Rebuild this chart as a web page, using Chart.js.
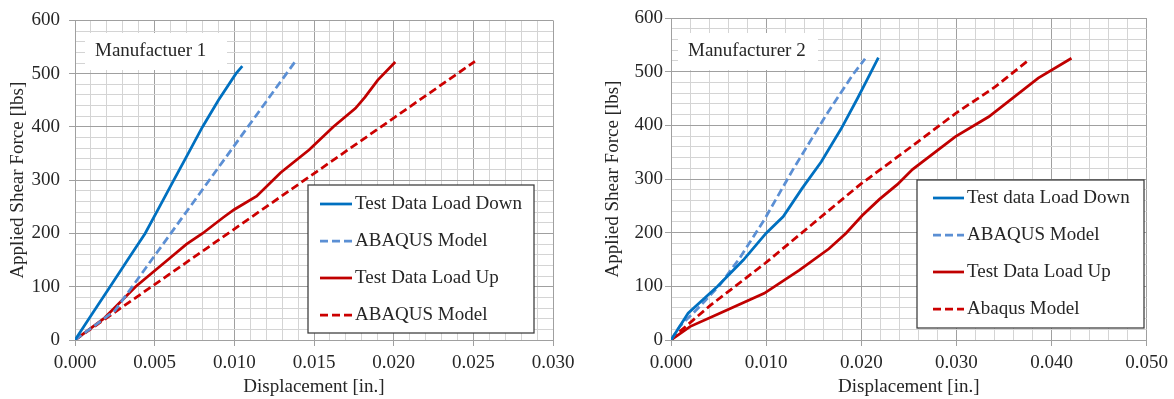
<!DOCTYPE html>
<html>
<head>
<meta charset="utf-8">
<script src="https://cdn.jsdelivr.net/npm/chart.js@4.4.1/dist/chart.umd.min.js"></script>
<style>
  body { margin: 0; background: #ffffff; }
  .wrap { position: absolute; top: 0; height: 399px; }
</style>
</head>
<body>
<div class="wrap" style="left:0;width:590px"><canvas id="chart1" width="590" height="399"></canvas></div>
<div class="wrap" style="left:595px;width:579px"><canvas id="chart2" width="579" height="399"></canvas></div>
<script>
// ----------------------------------------------- Data: Manufacturer 1 -----------------------------------------------
const m1DownX = [0, 0.0011, 0.0022, 0.0033, 0.0044, 0.0053, 0.0062, 0.0071, 0.0080, 0.0090, 0.0101, 0.0105];
const m1DownY = [0, 50, 100, 150, 200, 250, 300, 350, 400, 450, 500, 514];
const m1ModelDownX = [0, 0.0025, 0.0138];
const m1ModelDownY = [0, 55, 522];
const m1UpX = [0, 0.0018, 0.0038, 0.0050, 0.0060, 0.0070, 0.0080, 0.0093, 0.0100, 0.0114, 0.0129, 0.0147, 0.0162, 0.0176, 0.0182, 0.0190, 0.0201];
const m1UpY = [0, 40, 100, 130, 155, 180, 200, 230, 245, 270, 314, 357, 400, 435, 456, 488, 522];
const m1ModelUpX = [0, 0.0251];
const m1ModelUpY = [0, 523];

// ----------------------------------------------- Data: Manufacturer 2 -----------------------------------------------
const m2DownX = [0, 0.0018, 0.0049, 0.0076, 0.0100, 0.0118, 0.0138, 0.0158, 0.0179, 0.0196, 0.0205, 0.0218];
const m2DownY = [0, 50, 100, 149, 199, 230, 283, 332, 394, 450, 481, 526];
const m2ModelDownX = [0, 0.0009, 0.0030, 0.0051, 0.0072, 0.0098, 0.0110, 0.0128, 0.0163, 0.0191, 0.0204];
const m2ModelDownY = [0, 25, 62, 102, 152, 224, 261, 317, 419, 494, 524];
const m2UpX = [0, 0.0020, 0.0049, 0.0098, 0.0135, 0.0166, 0.0184, 0.0201, 0.0219, 0.0238, 0.0254, 0.0299, 0.0334, 0.0386, 0.0421];
const m2UpY = [0, 25, 48, 87, 130, 170, 199, 232, 262, 290, 318, 379, 416, 488, 525];
const m2ModelUpX = [0, 0.0010, 0.0041, 0.0099, 0.0150, 0.0199, 0.0257, 0.0299, 0.0341, 0.0377];
const m2ModelUpY = [0, 17, 64, 143, 218, 290, 366, 422, 472, 523];

const legendM1 = ["Test Data Load Down", "ABAQUS Model", "Test Data Load Up", "ABAQUS Model"];
const legendM2 = ["Test data Load Down", "ABAQUS Model", "Test Data Load Up", "Abaqus Model"];

//Global Options
Chart.defaults.font.family = "'Liberation Serif', 'Times New Roman', serif";
Chart.defaults.font.size = 19;
Chart.defaults.color = "#262626";

const MAJOR = "#a0a0a0";
const MINOR = "#d4d4d4";
const BLUE = "#0070c0";
const BLUE_DASH = "#5b8fd4";
const RED = "#c00000";
const RED_DASH = "#cc0000";

const pts = (xs, ys) => xs.map((x, i) => ({ x: x, y: ys[i] }));

function isMajor(value, step) {
    const r = value / step;
    return Math.abs(r - Math.round(r)) < 1e-6;
}

function series(label, xs, ys, color, dash) {
    return {
        label: label,
        data: pts(xs, ys),
        borderColor: color,
        backgroundColor: color,
        borderWidth: 2.75,
        borderDash: dash,
        pointRadius: 0,
        showLine: true,
        tension: 0,
    };
}

// legend box + panel tag drawn inside the plot
const panelDecor = {
    id: "panelDecor",
    afterDraw(chart, args, opts) {
        const ctx = chart.ctx;
        ctx.save();
        ctx.font = "19px 'Liberation Serif'";
        ctx.textBaseline = "middle";
        ctx.textAlign = "left";

        const t = opts.tag;
        ctx.fillStyle = "#ffffff";
        ctx.fillRect(t.x, t.y, t.w, t.h);
        ctx.fillStyle = "#262626";
        ctx.fillText(t.text, t.x + t.pad, t.y + t.h / 2);

        const L = opts.legend;
        ctx.fillStyle = "#ffffff";
        ctx.fillRect(L.x, L.y, L.w, L.h);
        ctx.strokeStyle = "#3a3a3a";
        ctx.lineWidth = 1.25;
        ctx.strokeRect(L.x, L.y, L.w, L.h);

        chart.data.datasets.forEach((ds, i) => {
            const y = L.y + L.first + i * L.step;
            ctx.beginPath();
            ctx.strokeStyle = ds.borderColor;
            ctx.lineWidth = ds.borderWidth;
            ctx.setLineDash(ds.borderDash || []);
            ctx.moveTo(L.x + L.lineX, y);
            ctx.lineTo(L.x + L.lineX + L.lineLen, y);
            ctx.stroke();
            ctx.setLineDash([]);
            ctx.fillStyle = "#262626";
            ctx.fillText(ds.label, L.x + L.textX, y);
        });
        ctx.restore();
    },
};

function buildConfig(datasets, xMax, xMinor, xMajor, yAxisWidth, yTickPad, padRight, decor) {
    return {
        type: "scatter",
        data: { datasets: datasets },
        plugins: [panelDecor],
        options: {
            responsive: false,
            animation: false,
            layout: { padding: { top: 18, right: padRight, left: 0, bottom: 0 } },
            scales: {
                x: {
                    type: "linear",
                    min: 0,
                    max: xMax,
                    afterFit: (scale) => { scale.height = 59; },
                    ticks: {
                        stepSize: xMinor,
                        autoSkip: false,
                        maxRotation: 0,
                        minRotation: 0,
                        padding: 6,
                        callback: (value) => isMajor(value, xMajor) ? value.toFixed(3) : "",
                    },
                    grid: {
                        color: (c) => isMajor(c.tick.value, xMajor) ? MAJOR : MINOR,
                        tickColor: (c) => isMajor(c.tick.value, xMajor) ? MAJOR : "rgba(0,0,0,0)",
                        tickLength: 6,
                        lineWidth: 1,
                    },
                    border: { color: MAJOR },
                    title: {
                        display: true,
                        text: "Displacement [in.]",
                        padding: { top: 0, bottom: 1 },
                    },
                },
                y: {
                    type: "linear",
                    min: 0,
                    max: 600,
                    afterFit: (scale) => { scale.width = yAxisWidth; },
                    ticks: {
                        stepSize: 20,
                        autoSkip: false,
                        padding: yTickPad,
                        callback: (value) => isMajor(value, 100) ? value : "",
                    },
                    grid: {
                        color: (c) => isMajor(c.tick.value, 100) ? MAJOR : MINOR,
                        tickColor: (c) => isMajor(c.tick.value, 100) ? MAJOR : "rgba(0,0,0,0)",
                        tickLength: 6,
                        lineWidth: 1,
                    },
                    border: { color: MAJOR },
                    title: {
                        display: true,
                        text: "Applied Shear Force [lbs]",
                        padding: { top: 7, bottom: 0 },
                    },
                },
            },
            plugins: {
                legend: { display: false },
                tooltip: { enabled: false },
                panelDecor: decor,
            },
        },
    };
}

// ----------------------------------------------- Manufacturer 1 -----------------------------------------------
const datasets1 = [
    series(legendM1[0], m1DownX, m1DownY, BLUE, []),
    series(legendM1[1], m1ModelDownX, m1ModelDownY, BLUE_DASH, [8, 4]),
    series(legendM1[2], m1UpX, m1UpY, RED, []),
    series(legendM1[3], m1ModelUpX, m1ModelUpY, RED_DASH, [8, 4]),
];
const myChart1 = new Chart(
    document.getElementById("chart1").getContext("2d"),
    buildConfig(datasets1, 0.030, 0.001, 0.005, 75, 9, 37, {
        tag: { text: "Manufactuer 1", x: 85, y: 33, w: 142, h: 37, pad: 10 },
        legend: { x: 308, y: 185, w: 226, h: 148, first: 19, step: 37, lineX: 12, lineLen: 32, textX: 47 },
    })
);

// ----------------------------------------------- Manufacturer 2 -----------------------------------------------
const datasets2 = [
    series(legendM2[0], m2DownX, m2DownY, BLUE, []),
    series(legendM2[1], m2ModelDownX, m2ModelDownY, BLUE_DASH, [8, 4]),
    series(legendM2[2], m2UpX, m2UpY, RED, []),
    series(legendM2[3], m2ModelUpX, m2ModelUpY, RED_DASH, [8, 4]),
];
const myChart2 = new Chart(
    document.getElementById("chart2").getContext("2d"),
    buildConfig(datasets2, 0.050, 0.002, 0.010, 76, 2, 25, {
        tag: { text: "Manufacturer 2", x: 83, y: 33, w: 140, h: 37, pad: 10 },
        legend: { x: 322, y: 180, w: 227, h: 148, first: 18, step: 37, lineX: 16, lineLen: 31, textX: 50 },
    })
);
</script>
</body>
</html>
